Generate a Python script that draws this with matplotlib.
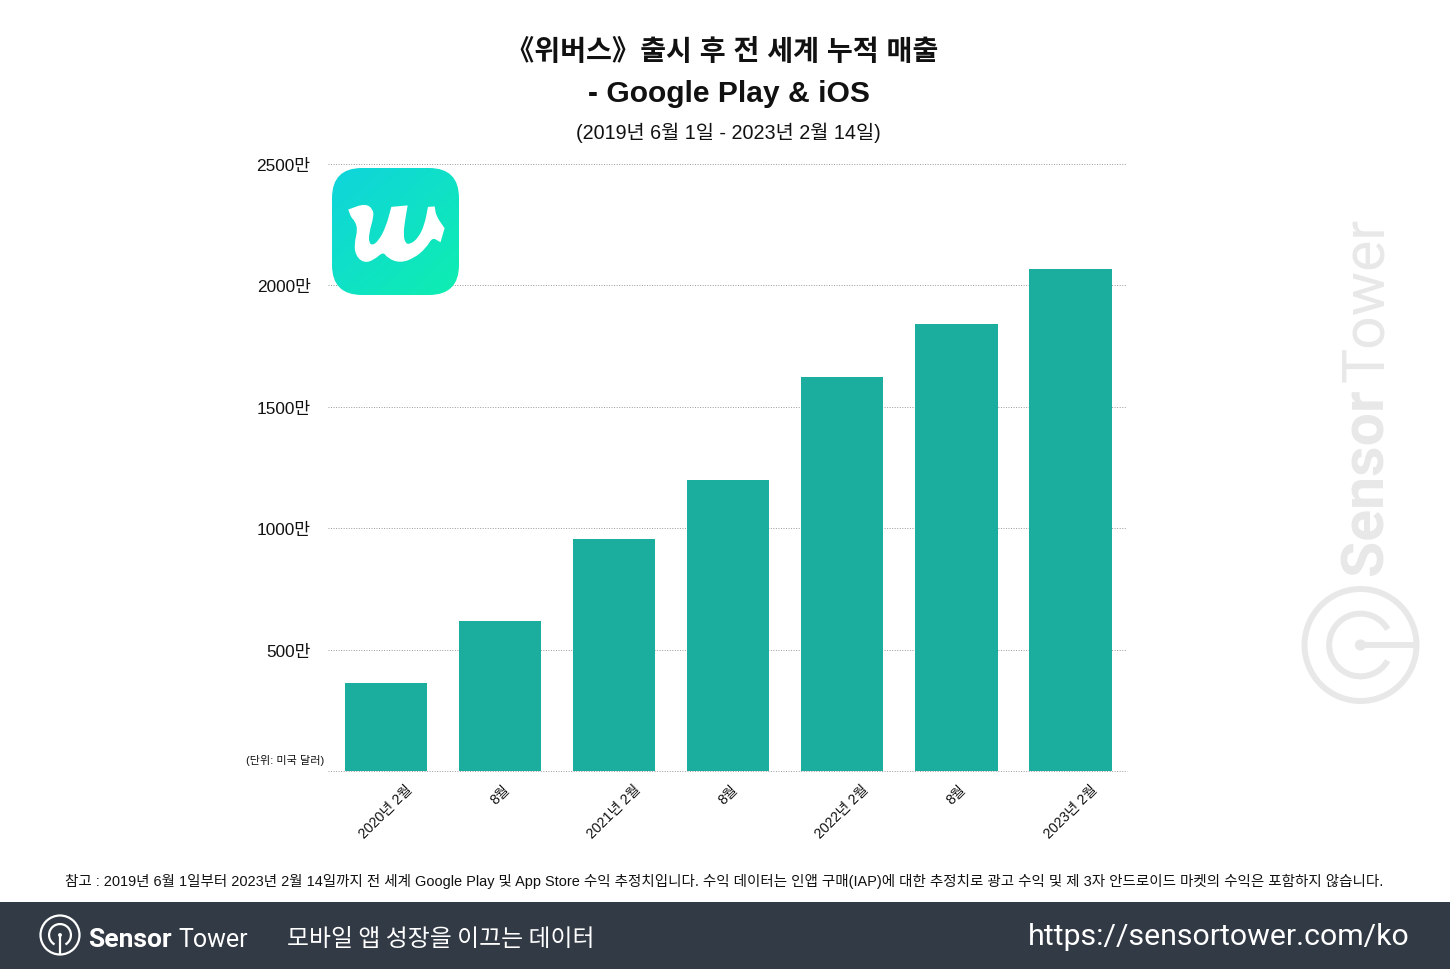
import matplotlib
matplotlib.use('Agg')
import matplotlib.pyplot as plt
import numpy as np
from matplotlib.patches import Arc, Circle, FancyBboxPatch, PathPatch, Rectangle
from matplotlib.path import Path

plt.rcParams['font.family'] = ['Liberation Sans', 'Noto Sans CJK KR', 'DejaVu Sans']

months = ['2020년 2월', '8월', '2021년 2월', '8월', '2022년 2월', '8월', '2023년 2월']
revenue = [362, 618, 955, 1198, 1623, 1841, 2067]
y_ticks = [500, 1000, 1500, 2000, 2500]
y_labels = ['500만', '1000만', '1500만', '2000만', '2500만']

W, H = 1450, 970
BAR = '#1bae9f'
DOTS = (0, (1, 1.6))
NOTE = ('참고 : 2019년 6월 1일부터 2023년 2월 14일까지 전 세계 Google Play 및 App Store 수익 추정치입니다. '
        '수익 데이터는 인앱 구매(IAP)에 대한 추정치로 광고 수익 및 제 3자 안드로이드 마켓의 수익은 포함하지 않습니다.')

# outline of the app icon letter, in icon pixels; repeated points keep corners sharp
W_SHAPE = [(328, 183), (328, 183), (375, 166), (397, 182), (398, 205), (385, 250), (384, 282), (397, 292),
           (417, 278), (440, 235), (456, 176), (456, 176), (500, 172), (500, 172), (494, 205), (487, 258),
           (495, 286), (512, 288), (537, 268), (556, 228), (566, 176), (566, 176), (582, 175), (582, 175),
           (586, 202), (611, 238), (611, 238), (600, 276), (600, 276), (576, 262), (556, 296), (520, 326),
           (480, 339), (445, 326), (430, 305), (400, 331), (373, 339), (350, 320), (345, 285), (356, 240),
           (345, 212), (336, 205)]


def smooth_closed(points):
    pts = np.array(points, dtype=float)
    mids = (pts + np.roll(pts, -1, axis=0)) / 2
    verts = [mids[-1]]
    codes = [Path.MOVETO]
    for i in range(len(pts)):
        verts += [pts[i], mids[i]]
        codes += [Path.CURVE3, Path.CURVE3]
    return Path(verts, codes)


def draw_mark(ax, cx, cy, r, color, lw, stem_angle, zorder):
    # round Sensor Tower mark; stem_angle is in screen degrees with y pointing down
    ax.add_patch(Circle((cx, cy), r, fill=False, ec=color, lw=lw, zorder=zorder))
    ax.add_patch(Arc((cx, cy), r * 1.12, r * 1.12, theta1=stem_angle + 30,
                     theta2=stem_angle + 330, ec=color, lw=lw, zorder=zorder))
    a = np.radians(stem_angle)
    ax.plot([cx, cx + r * np.cos(a)], [cy, cy + r * np.sin(a)], color=color, lw=lw,
            solid_capstyle='butt', zorder=zorder)
    ax.add_patch(Circle((cx, cy), r * 0.10, color=color, lw=0, zorder=zorder))


fig = plt.figure(figsize=(W / 100, H / 100), dpi=100, facecolor='white')

ax = fig.add_axes([328 / W, 1 - 772 / H, (1127 - 328) / W, (772 - 165) / H])
ax.bar(range(len(revenue)), revenue, width=0.72, color=BAR, zorder=3)
ax.set_xlim(-0.508, 6.495)
ax.set_ylim(0, 2500)
ax.set_yticks(y_ticks)
ax.set_yticklabels(y_labels, fontsize=12.4, color='#111111')
ax.set_xticks(range(len(months)))
ax.set_xticklabels(months, rotation=45, ha='center', fontsize=10.2, color='#111111')
ax.tick_params(length=0)
ax.tick_params(axis='y', pad=12.5)
ax.tick_params(axis='x', pad=7.5)
ax.grid(axis='y', color='#999999', linestyle=DOTS, linewidth=0.7, zorder=0)
ax.axhline(0, color='#999999', linestyle=DOTS, linewidth=0.7, zorder=4, clip_on=False)
for spine in ax.spines.values():
    spine.set_visible(False)

# overlay in pixel coordinates for the decorations around the chart
ov = fig.add_axes([0, 0, 1, 1], facecolor='none')
ov.set_axis_off()

fig.text(722 / W, 1 - 52 / H, '《위버스》출시 후 전 세계 누적 매출', ha='center', va='center',
         fontsize=20.3, fontweight='bold', color='#111111')
fig.text(729 / W, 1 - 94 / H, '- Google Play & iOS', ha='center', va='center',
         fontsize=21.6, fontweight='bold', color='#111111')
fig.text(728.5 / W, 1 - 133 / H, '(2019년 6월 1일 - 2023년 2월 14일)', ha='center', va='center',
         fontsize=14.2, color='#111111')
fig.text(324 / W, 1 - 761 / H, '(단위: 미국 달러)', ha='right', va='center', fontsize=8, color='#111111')
fig.text(724.5 / W, 1 - 881 / H, NOTE, ha='center', va='center', fontsize=10.46, color='#111111')

# app icon
grad_x, grad_y = np.meshgrid(np.linspace(0, 1, 128), np.linspace(0, 1, 128))
t = (grad_x + grad_y * 1.1) / 2.1
start, end = np.array([16, 212, 220]), np.array([14, 238, 176])
grad = (start + (end - start) * t[..., None]) / 255
icon = ov.imshow(grad, extent=(332, 459, 296, 169), aspect='auto', zorder=5, interpolation='bilinear')
clip = FancyBboxPatch((332 + 30, 169 + 30), 127 - 60, 127 - 60, boxstyle='round,pad=30,rounding_size=30',
                      fc='none', ec='none', transform=ov.transData)
ov.add_patch(clip)
icon.set_clip_path(clip)
w_path = smooth_closed(W_SHAPE)
w_path = Path(w_path.vertices / 3 + np.array([240, 150]), w_path.codes)
ov.add_patch(PathPatch(w_path, fc='white', ec='white', lw=1.2, zorder=6))

# watermark down the right side
ov.text(1383, 575, 'Sensor', rotation=90, ha='left', va='baseline', rotation_mode='anchor', fontsize=42.5,
        fontweight='bold', family='Roboto', color='#e8e8e8', zorder=2)
ov.text(1383, 382, 'Tower', rotation=90, ha='left', va='baseline', rotation_mode='anchor', fontsize=42.5,
        family='Roboto', color='#e8e8e8', zorder=2)
draw_mark(ov, 1360.5, 646, 56, '#e8e8e8', 4.3, 0, 2)

# footer band
ov.add_patch(Rectangle((0, 903), W, 67, fc='#323a45', ec='none', zorder=4))
draw_mark(ov, 60, 936, 19.5, 'white', 1.6, 90, 6)
ov.text(88, 947, 'Sensor', ha='left', va='baseline', fontsize=19, fontweight='bold',
        family='Roboto', color='white', zorder=6)
ov.text(178, 947, 'Tower', ha='left', va='baseline', fontsize=18, family='Roboto', color='white', zorder=6)
ov.text(287, 940, '모바일 앱 성장을 이끄는 데이터', ha='left', va='center', fontsize=17.2,
        family='Noto Sans CJK KR', color='white', zorder=6)
ov.text(1410, 945, 'https://sensortower.com/ko', ha='right', va='baseline', fontsize=21.8,
        family='Roboto', color='white', zorder=6)

ov.set_xlim(0, W)
ov.set_ylim(H, 0)

fig.savefig('out.png', dpi=100)
